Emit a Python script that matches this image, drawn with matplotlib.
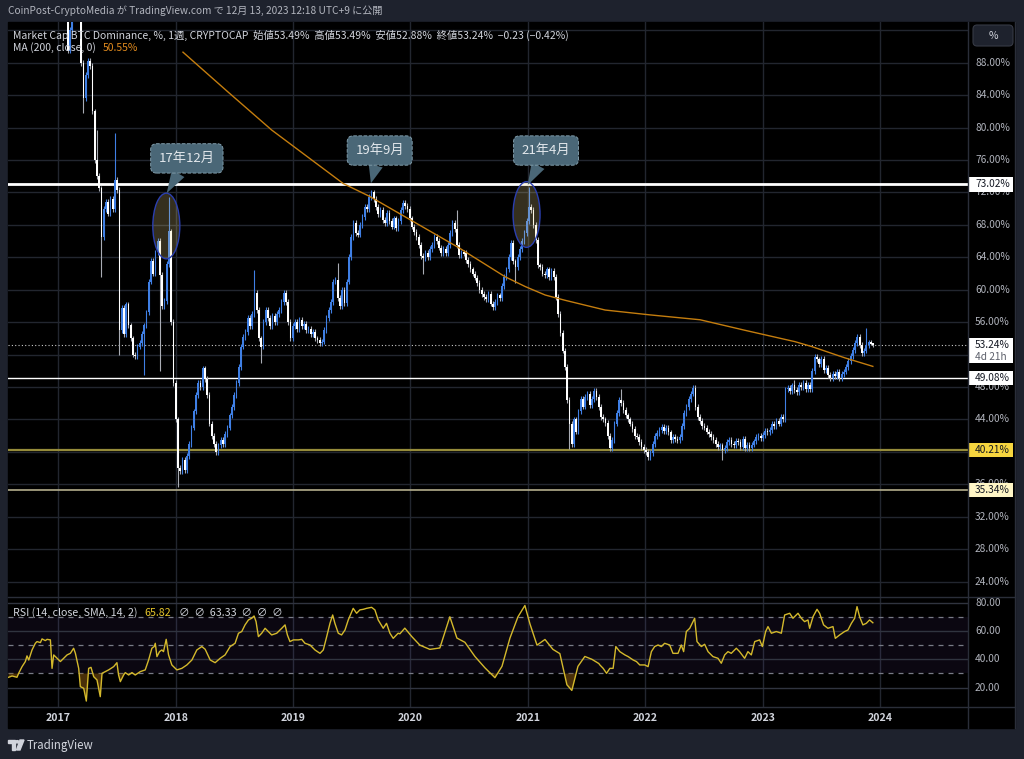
import numpy as np
import matplotlib
matplotlib.use("Agg")
import matplotlib.pyplot as plt
import matplotlib.dates as mdates
from matplotlib.patches import Rectangle, Ellipse, Polygon, FancyBboxPatch, Circle
from matplotlib.transforms import blended_transform_factory as blend
from datetime import datetime, timedelta

plt.rcParams['font.family'] = ['Noto Sans CJK JP', 'DejaVu Sans']

W, H = 1024, 759

# weekly closes, one list per year, starting on the Monday in year_starts
year_starts = ["2017-01-02", "2018-01-01", "2018-12-31", "2019-12-30",
               "2021-01-04", "2022-01-03", "2023-01-02"]
close_2017 = [94.5, 95.0, 94.2, 93.8, 89.5, 92.0, 93.8, 94.5, 94.0, 93.6,
              88.0, 83.6, 86.5, 88.2, 87.6, 82.0, 76.0, 74.0, 72.5, 66.5,
              70.0, 70.8, 69.4, 71.2, 70.0, 73.5, 72.3, 55.0, 57.8, 54.5,
              58.2, 55.6, 54.0, 52.0, 51.8, 53.0, 53.4, 54.6, 55.6, 57.2,
              61.0, 63.6, 62.0, 64.6, 66.0, 61.8, 58.0, 58.6, 63.2, 67.2,
              56.0, 48.5]
close_2018 = [44.0, 38.0, 37.6, 39.0, 37.8, 39.5, 41.0, 43.0, 45.0, 47.0,
              48.5, 48.0, 50.3, 49.0, 47.0, 43.5, 42.0, 41.0, 40.0, 40.8,
              41.5, 41.0, 42.2, 43.0, 44.5, 45.5, 47.0, 48.5, 50.5, 53.0,
              54.2, 54.8, 56.5, 55.5, 57.0, 59.6, 57.5, 54.0, 53.0, 56.0,
              57.5, 56.5, 55.5, 56.8, 56.0, 57.0, 57.5, 58.5, 59.6, 58.5,
              56.0, 54.0]
close_2019 = [55.5, 56.0, 55.2, 56.3, 55.5, 55.8, 55.0, 55.2, 54.5, 54.8,
              54.0, 53.8, 53.4, 53.6, 55.0, 56.5, 57.5, 58.5, 61.0, 61.2,
              59.0, 58.0, 60.0, 58.4, 61.0, 64.0, 66.5, 68.2, 67.0, 66.8,
              68.0, 69.0, 70.2, 70.0, 71.4, 72.0, 71.2, 70.2, 69.3, 69.8,
              68.6, 68.2, 69.5, 68.5, 67.8, 68.8, 67.6, 68.5, 69.8, 70.7,
              70.3, 70.0]
close_2020 = [68.8, 67.8, 67.1, 66.5, 65.5, 64.2, 63.9, 64.5, 64.0, 65.0,
              65.5, 66.5, 66.0, 65.2, 64.5, 65.0, 64.5, 65.5, 67.0, 68.2,
              67.5, 65.5, 64.3, 64.6, 64.5, 63.7, 63.2, 62.5, 62.0, 61.5,
              60.8, 60.0, 59.5, 59.1, 58.8, 59.5, 58.3, 57.9, 58.5, 59.3,
              59.0, 60.5, 61.6, 62.5, 64.0, 65.8, 63.5, 62.8, 64.0, 65.0,
              66.0, 67.0, 68.5]
close_2021 = [70.2, 69.8, 68.0, 66.1, 63.0, 62.8, 62.0, 61.8, 62.5, 61.6,
              62.3, 61.6, 59.1, 57.0, 54.7, 52.5, 50.5, 46.4, 43.5, 41.0,
              44.0, 42.5, 45.0, 46.5, 45.6, 46.8, 47.2, 45.8, 46.5, 47.5,
              46.8, 45.5, 44.3, 44.0, 43.6, 42.0, 40.5, 41.5, 43.5, 44.8,
              46.4, 46.0, 45.2, 44.5, 44.0, 43.5, 42.8, 42.0, 41.9, 41.2,
              40.6, 40.2]
close_2022 = [40.0, 39.4, 39.9, 41.0, 42.0, 42.3, 42.7, 43.1, 42.6, 43.0,
              42.4, 41.5, 41.9, 41.6, 41.5, 41.8, 43.2, 44.8, 45.5, 46.5,
              47.2, 47.9, 45.5, 44.3, 43.8, 43.2, 43.0, 42.5, 42.2, 41.8,
              41.5, 41.0, 40.6, 40.8, 40.2, 40.5, 41.2, 41.5, 41.0, 40.8,
              41.4, 41.2, 40.6, 41.6, 40.5, 40.9, 40.5, 40.9, 41.3, 41.8,
              42.0, 41.7]
close_2023 = [42.1, 42.6, 42.4, 42.7, 43.5, 43.2, 43.8, 43.5, 44.3, 44.0,
              47.7, 47.9, 47.5, 48.2, 47.6, 47.4, 48.3, 48.0, 48.5, 47.8,
              48.3, 47.7, 50.0, 51.7, 51.4, 50.8, 51.5, 50.1, 50.4, 49.5,
              49.1, 49.6, 49.4, 49.9, 49.1, 49.6, 49.9, 50.5, 51.2, 51.8,
              52.6, 53.4, 54.2, 53.2, 52.2, 52.5, 53.2, 53.5, 53.49, 53.24]
close_by_year = [close_2017, close_2018, close_2019, close_2020,
                 close_2021, close_2022, close_2023]

# long wicks that stand out
high_spikes = [("2017-05-01", 79.7), ("2017-06-26", 79.3), ("2017-12-11", 71.4),
               ("2018-09-03", 62.4), ("2019-05-20", 63.3), ("2020-05-25", 69.8),
               ("2021-01-04", 72.7), ("2021-10-18", 47.7), ("2022-05-30", 48.3),
               ("2023-04-10", 48.9), ("2023-11-20", 55.3), ("2023-12-11", 53.49)]
low_spikes = [("2017-03-20", 81.8), ("2017-05-15", 61.6), ("2017-07-10", 52.0),
              ("2017-09-25", 49.5), ("2017-11-13", 50.0), ("2018-01-08", 35.7),
              ("2018-09-24", 51.0), ("2020-02-10", 62.0), ("2020-11-23", 60.8),
              ("2021-05-10", 40.3), ("2022-01-10", 39.0), ("2022-08-29", 39.0),
              ("2023-12-11", 52.88)]

# MA(200) (decimal year, value)
ma_t = [2018.062, 2018.445, 2018.818, 2019.428, 2019.655, 2020.422, 2020.465,
        2020.806, 2020.976, 2021.147, 2021.317, 2021.487, 2021.658, 2022.041,
        2022.467, 2022.850, 2023.276, 2023.418, 2023.702, 2023.940]
ma_v = [89.3, 84.4, 79.7, 73.1, 71.5, 65.1, 64.7, 61.6, 60.4, 59.35, 58.7,
        58.1, 57.5, 56.9, 56.3, 55.0, 53.6, 53.0, 51.6, 50.55]

# RSI(14) (decimal year, value)
rsi_t = [2016.577, 2016.606, 2016.648, 2016.662, 2016.691, 2016.719, 2016.733, 2016.748, 2016.776, 2016.804,
         2016.818, 2016.847, 2016.861, 2016.889, 2016.904, 2016.932, 2016.946, 2016.960, 2016.989, 2017.017,
         2017.045, 2017.074, 2017.102, 2017.130, 2017.145, 2017.173, 2017.187, 2017.216, 2017.238, 2017.258,
         2017.278, 2017.301, 2017.329, 2017.357, 2017.372, 2017.400, 2017.428, 2017.471, 2017.499, 2017.513,
         2017.528, 2017.556, 2017.570, 2017.599, 2017.627, 2017.655, 2017.698, 2017.740, 2017.769, 2017.797,
         2017.817, 2017.826, 2017.840, 2017.862, 2017.882, 2017.896, 2017.919, 2017.939, 2017.967, 2018.010,
         2018.052, 2018.095, 2018.138, 2018.180, 2018.223, 2018.251, 2018.294, 2018.336, 2018.379, 2018.421,
         2018.464, 2018.506, 2018.535, 2018.563, 2018.591, 2018.620, 2018.648, 2018.668, 2018.685, 2018.705,
         2018.733, 2018.762, 2018.790, 2018.818, 2018.861, 2018.904, 2018.932, 2018.952, 2018.974, 2019.003,
         2019.045, 2019.074, 2019.102, 2019.145, 2019.187, 2019.230, 2019.258, 2019.287, 2019.315, 2019.338,
         2019.357, 2019.386, 2019.414, 2019.443, 2019.471, 2019.513, 2019.542, 2019.570, 2019.599, 2019.627,
         2019.670, 2019.698, 2019.726, 2019.769, 2019.797, 2019.826, 2019.854, 2019.896,
         2019.911, 2019.953, 2020.013, 2020.081, 2020.166, 2020.251, 2020.336, 2020.396, 2020.464, 2020.549,
         2020.634, 2020.719, 2020.779, 2020.847, 2020.915, 2020.974, 2021.017, 2021.077, 2021.145, 2021.213,
         2021.272, 2021.332, 2021.374, 2021.426, 2021.485, 2021.545, 2021.604,
         2021.613, 2021.641, 2021.670, 2021.698, 2021.726, 2021.749, 2021.783, 2021.826, 2021.854, 2021.897,
         2021.925, 2021.953, 2021.996, 2022.024, 2022.052, 2022.080, 2022.109, 2022.137, 2022.165, 2022.208,
         2022.236, 2022.279, 2022.307, 2022.327, 2022.350, 2022.379, 2022.421, 2022.441, 2022.478, 2022.506,
         2022.535, 2022.577, 2022.620, 2022.648, 2022.677, 2022.705, 2022.733, 2022.776, 2022.804, 2022.847,
         2022.875, 2022.904, 2022.933, 2022.975, 2022.998, 2023.026, 2023.046, 2023.075, 2023.117, 2023.160,
         2023.188, 2023.231, 2023.259, 2023.302, 2023.330, 2023.358, 2023.387, 2023.401, 2023.430, 2023.464,
         2023.486, 2023.520, 2023.557, 2023.600, 2023.620, 2023.657, 2023.699, 2023.728, 2023.757, 2023.785,
         2023.805, 2023.827, 2023.855, 2023.884, 2023.912, 2023.940]
rsi_v = [27.3, 28.2, 27.3, 30.1, 34.8, 38.4, 42.4, 39.5, 46.6, 51.3,
         52.5, 51.8, 54.4, 53.2, 54.1, 53.7, 33.6, 43.1, 40.7, 38.4,
         40.7, 43.1, 44.2, 47.8, 44.2, 33.6, 20.7, 19.5, 10.5, 33.6,
         34.3, 27.7, 25.4, 13.6, 30.1, 31.3, 32.5, 34.8, 37.6, 28.9,
         24.2, 28.9, 30.6, 28.9, 30.6, 28.9, 31.3, 32.5, 39.5, 47.8,
         49.0, 51.3, 41.9, 45.4, 46.6, 45.4, 54.1, 43.1, 36.0, 32.5,
         33.6, 36.0, 39.5, 46.6, 49.0, 47.1, 39.5, 37.6, 40.7, 43.1,
         49.0, 51.3, 58.4, 59.6, 64.3, 67.8, 69.0, 70.6, 66.6, 56.0,
         58.4, 61.9, 59.6, 57.2, 58.4, 61.9, 64.3, 57.2, 52.5, 53.7,
         53.7, 54.1, 51.3, 50.1, 46.6, 44.2, 46.6, 56.0, 65.4, 71.3,
         65.4, 58.4, 57.2, 60.7, 67.8, 76.0, 72.5, 74.9, 75.3, 76.0,
         76.7, 74.9, 67.8, 61.9, 65.4, 58.4, 54.8, 58.4,
         58.0, 62.0, 56.0, 50.0, 47.0, 48.0, 70.0, 55.0, 52.0, 42.0,
         34.0, 27.0, 35.0, 55.0, 70.0, 78.0, 65.0, 50.0, 54.0, 47.0,
         44.0, 22.0, 18.0, 35.0, 42.0, 40.0, 37.0,
         36.0, 33.6, 30.1, 33.6, 33.6, 49.0, 45.4, 43.1, 41.9, 39.5,
         38.4, 36.0, 36.0, 34.8, 45.4, 49.0, 50.1, 49.0, 51.3, 50.1,
         44.2, 44.2, 50.1, 45.4, 59.6, 61.9, 69.0, 52.5, 49.0, 50.6,
         45.4, 41.9, 40.7, 37.2, 43.1, 45.4, 44.2, 47.8, 45.4, 40.7,
         45.4, 43.1, 52.5, 53.7, 49.0, 59.6, 63.1, 58.4, 59.6, 58.4,
         71.3, 72.5, 69.0, 72.5, 69.0, 66.6, 67.8, 61.9, 70.1, 75.3,
         72.5, 64.3, 61.9, 63.1, 54.8, 57.2, 59.6, 60.7, 65.4, 69.0,
         77.2, 70.1, 64.3, 65.4, 67.8, 65.8]

levels = [73.02, 49.08, 40.21, 35.34]
last_close = 53.24
price_ticks = [88, 84, 80, 76, 72, 68, 64, 60, 56, 48, 44, 40, 36, 32, 28, 24]
rsi_ticks = [80, 60, 40, 20]
years = [2017, 2018, 2019, 2020, 2021, 2022, 2023, 2024]
callouts = [("17年12月", 2018.095, 76.2, 2017.923, 71.9),
            ("19年9月", 2019.739, 77.17, 2019.664, 73.13),
            ("21年4月", 2021.154, 77.17, 2020.998, 72.92)]
ellipses = [(2017.920, 67.86), (2020.988, 69.28)]

BLUE = '#3f7fe4'
GRID = '#22262f'
TXT = '#b2b5be'


def dyear(t):
    y = int(t)
    a = datetime(y, 1, 1)
    b = datetime(y + 1, 1, 1)
    return mdates.date2num(a + (b - a) * (t - y))


def fx(x):
    return x / W


def fy(y):
    return 1 - y / H


# build candles
dates, closes = [], []
for start, vals in zip(year_starts, close_by_year):
    d0 = datetime.strptime(start, "%Y-%m-%d")
    for k, v in enumerate(vals):
        dates.append(d0 + timedelta(weeks=k))
        closes.append(v)
closes = np.array(closes)
opens = np.concatenate([[closes[0]], closes[:-1]])
highs = np.maximum(opens, closes) + 0.35
lows = np.minimum(opens, closes) - 0.35
keys = [d.strftime("%Y-%m-%d") for d in dates]
for d, v in high_spikes:
    highs[keys.index(d)] = v
for d, v in low_spikes:
    lows[keys.index(d)] = v
xd = mdates.date2num(dates)
up = closes >= opens
body = closes - opens
body = np.where(np.abs(body) < 0.2, np.where(up, 0.2, -0.2), body)

fig = plt.figure(figsize=(W / 100, H / 100), dpi=100, facecolor='#1e222d')
fig.patches.append(Rectangle((fx(8), fy(728)), fx(1015 - 8), (728 - 22) / H,
                             transform=fig.transFigure, color='black', zorder=-5))

ax = fig.add_axes([fx(8), fy(597), fx(960), 575 / H])
rax = fig.add_axes([fx(8), fy(707), fx(960), 110 / H])
xlim = (dyear(2016.5716), dyear(2024.749))
for a in (ax, rax):
    a.set_facecolor('black')
    a.set_xlim(*xlim)
    a.set_xticks([])
    a.set_yticks([])
    for s in a.spines.values():
        s.set_visible(False)
    for y in years:
        a.axvline(dyear(y), color=GRID, lw=1, zorder=0)

ax.set_ylim(22.11, 93.02)
for v in range(24, 93, 4):
    ax.axhline(v, color=GRID, lw=1, zorder=0)

# candles
ax.vlines(xd[up], lows[up], highs[up], color=BLUE, lw=0.8, zorder=3)
ax.vlines(xd[~up], lows[~up], highs[~up], color='#a9acb4', lw=0.8, zorder=3)
ax.bar(xd[up], body[up], bottom=opens[up], width=5.6, color=BLUE, lw=0, zorder=4)
ax.bar(xd[~up], body[~up], bottom=opens[~up], width=5.6, color='white', lw=0, zorder=4)

# MA
ax.plot([dyear(t) for t in ma_t], ma_v, color='#c47d0e', lw=1.0, zorder=5)

# horizontal levels
ax.axhline(levels[0], color='white', lw=2.0, zorder=2)
ax.axhline(levels[1], color='white', lw=1.0, zorder=2)
ax.axhline(levels[2], color='#958b3a', lw=1.6, zorder=2)
ax.axhline(levels[3], color='#b3ad8c', lw=1.2, zorder=2)
ax.axhline(last_close, color='#c8c8c8', lw=0.8, ls=(0, (1, 2)), zorder=2)

# ellipses
for t, v in ellipses:
    ax.add_patch(Ellipse((dyear(t), v), 84, 8.1, facecolor=(0.95, 0.85, 0.55, 0.22),
                         edgecolor='#2b3fb0', lw=1.0, zorder=6))

# callouts
for label, bt, bv, tt, tv in callouts:
    ax.annotate(label, xy=(dyear(tt), tv), xytext=(dyear(bt), bv),
                ha='center', va='center', fontsize=9.5, color='#e3e8ec', zorder=8,
                bbox=dict(boxstyle='round,pad=0.62,rounding_size=0.45', fc='#4a6777',
                          ec='#7e9aa8', ls='--', lw=0.7),
                arrowprops=dict(arrowstyle='wedge,tail_width=1.1,shrink_factor=0.5',
                                fc='#4a6777', ec='none', shrinkA=0, shrinkB=0))

# RSI pane
rax.set_ylim(6.3, 84)
rt = np.array([dyear(t) for t in rsi_t])
rv = np.array(rsi_v)
rax.axhspan(30, 70, color='#7e57c2', alpha=0.09, lw=0, zorder=1)
for v in rsi_ticks:
    rax.axhline(v, color='#30343f', lw=1, zorder=1)
for v in (70, 50, 30):
    rax.axhline(v, color='#787b86', lw=0.9, ls=(0, (4, 4)), zorder=2)
rax.fill_between(rt, rv, 30, where=rv < 30, interpolate=True, color='#7a5010',
                 alpha=0.6, lw=0, zorder=2)
rax.plot(rt, rv, color='#d4b92c', lw=1.0, zorder=3)

# separators
sep = '#2a2e39'
for y in (597, 707):
    fig.add_artist(plt.Line2D([fx(8), fx(1015)], [fy(y), fy(y)], color=sep, lw=1,
                              transform=fig.transFigure))
fig.add_artist(plt.Line2D([fx(968), fx(968)], [fy(22), fy(728)], color=sep, lw=1,
                          transform=fig.transFigure))
fig.add_artist(plt.Line2D([fx(1015), fx(1015)], [fy(22), fy(728)], color=sep, lw=1,
                          transform=fig.transFigure))

# price scale labels
ptr = blend(fig.transFigure, ax.transData)
for v in price_ticks:
    ax.text(fx(975), v, f"{v:.2f}%", transform=ptr, fontsize=7.3, color=TXT,
            va='center', ha='left', clip_on=False)
rtr = blend(fig.transFigure, rax.transData)
for v in rsi_ticks:
    rax.text(fx(975), v, f"{v:.2f}", transform=rtr, fontsize=7.3, color=TXT,
             va='center', ha='left', clip_on=False)


def price_box(v, h_px, fc, lines, cols):
    h = h_px / 8.109
    ax.add_patch(Rectangle((fx(968), v - h / 2), fx(45), h, transform=ptr,
                           facecolor=fc, edgecolor='none', clip_on=False, zorder=10))
    n = len(lines)
    for k, (s, c) in enumerate(zip(lines, cols)):
        off = (k - (n - 1) / 2) * 12 / 8.109
        ax.text(fx(975), v - off, s, transform=ptr, fontsize=7.3, color=c,
                va='center', ha='left', clip_on=False, zorder=11)


price_box(levels[0], 15, 'white', ["73.02%"], ['#131722'])
price_box(52.5, 25, 'white', ["53.24%", "4d 21h"], ['#131722', '#5d606b'])
price_box(levels[1], 14, 'white', ["49.08%"], ['#131722'])
price_box(levels[2], 14, '#f6d53f', ["40.21%"], ['#131722'])
price_box(levels[3], 14, '#fff6c6', ["35.34%"], ['#131722'])

# % button
fig.patches.append(FancyBboxPatch((fx(973), fy(46)), fx(40), 21 / H,
                                  boxstyle='round,pad=0,rounding_size=0.004',
                                  mutation_aspect=W / H, transform=fig.transFigure,
                                  facecolor='#1e222d', edgecolor='#363a45', lw=0.8))
fig.text(fx(993), fy(36), "%", color='#d1d4dc', fontsize=7.5, ha='center', va='center')

# time axis
ttr = blend(rax.transData, fig.transFigure)
for y in years:
    rax.text(dyear(y), fy(718), str(y), transform=ttr, fontsize=7.6, color='#d1d4dc',
             ha='center', va='center', fontweight='bold', clip_on=False)

# header texts
fig.text(fx(8), fy(11), "CoinPost-CryptoMedia が TradingView.com で 12月 13, 2023 12:18 UTC+9 に公開",
         color=TXT, fontsize=7.3, va='center')
fig.text(fx(13), fy(35), "Market Cap BTC Dominance, %, 1週, CRYPTOCAP  始値53.49%  高値53.49%  "
         "安値52.88%  終値53.24%  −0.23 (−0.42%)", color='#d1d4dc', fontsize=7.5, va='center')
t1 = fig.text(fx(13), fy(48), "MA (200, close, 0)", color='#d1d4dc', fontsize=7.5, va='center')
ax.annotate("50.55%", xy=(1, 0.5), xycoords=t1, xytext=(5, 0), textcoords='offset points',
            color='#e08a1e', fontsize=7.5, va='center', annotation_clip=False, zorder=12)
t2 = fig.text(fx(13), fy(613), "RSI (14, close, SMA, 14, 2)", color='#d1d4dc', fontsize=7.7,
              va='center')
a2 = rax.annotate("65.82", xy=(1, 0.5), xycoords=t2, xytext=(5, 0), textcoords='offset points',
                  color='#e6c52c', fontsize=7.7, va='center', annotation_clip=False, zorder=12)
rax.annotate("∅  ∅  63.33  ∅  ∅  ∅", xy=(1, 0.5), xycoords=a2, xytext=(6, 0),
             textcoords='offset points', color='#d1d4dc', fontsize=7.7, va='center',
             annotation_clip=False, zorder=12)

# footer logo
lc = '#d1d4dc'
fig.patches.append(Polygon([(fx(8), fy(740)), (fx(15), fy(740)), (fx(15), fy(750)),
                            (fx(12), fy(750)), (fx(12), fy(743)), (fx(8), fy(743))],
                           closed=True, transform=fig.transFigure, color=lc))
fig.patches.append(Circle((fx(17.3), fy(741.8)), 1.6 / W, transform=fig.transFigure, color=lc))
fig.patches.append(Polygon([(fx(20), fy(740)), (fx(24), fy(740)), (fx(20), fy(750)),
                            (fx(16.5), fy(750))], closed=True, transform=fig.transFigure, color=lc))
fig.text(fx(27), fy(745), "TradingView", color=lc, fontsize=8.3, va='center')

fig.savefig("out.png", dpi=100, facecolor=fig.get_facecolor())
